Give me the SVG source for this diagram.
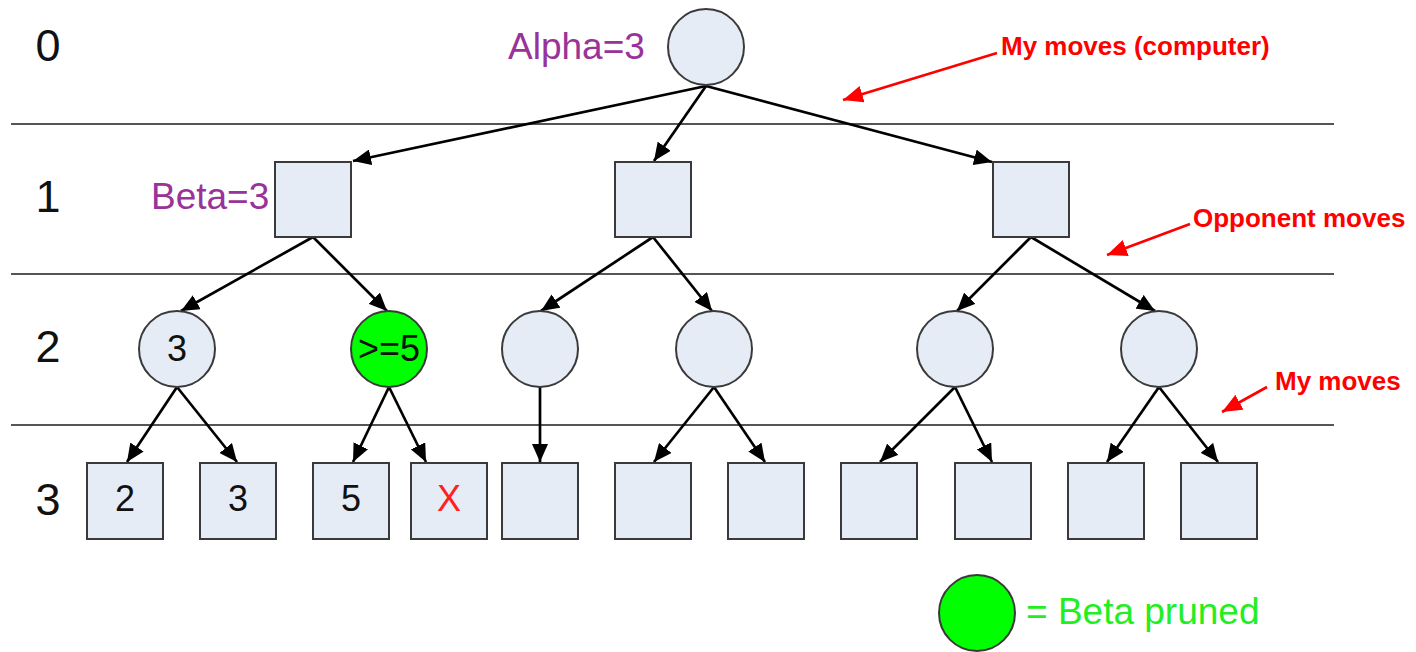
<svg xmlns="http://www.w3.org/2000/svg" width="1416" height="652" viewBox="0 0 1416 652">
  <defs>
    <marker id="arrow" viewBox="0 0 18 16" refX="18" refY="8" markerWidth="18" markerHeight="16" markerUnits="userSpaceOnUse" orient="auto">
      <path d="M0,0 L18,8 L0,16 Z" fill="#000"/>
    </marker>
    <marker id="arrow-red" viewBox="0 0 20 17" refX="20" refY="8.5" markerWidth="20" markerHeight="17" markerUnits="userSpaceOnUse" orient="auto">
      <path d="M0,0 L20,8.5 L0,17 Z" fill="#ff0000"/>
    </marker>
  </defs>
  <style>
    text { font-family: "Liberation Sans", Arial, sans-serif; }
    .sep { stroke: #555; stroke-width: 2; }
    .node { fill: #e6ecf6; stroke: #3a3a3a; stroke-width: 2; }
    .pruned { fill: #00ff00; stroke: #3a3a3a; stroke-width: 2; }
    .edge { stroke: #000; stroke-width: 2.7; fill: none; marker-end: url(#arrow); }
    .note-arrow { stroke: #ff0000; stroke-width: 2.7; fill: none; marker-end: url(#arrow-red); }
    .level { font-size: 45px; fill: #111; text-anchor: middle; }
    .val { font-size: 36px; fill: #111; text-anchor: middle; }
    .bound { font-size: 37px; fill: #993399; }
    .note { font-size: 26px; font-weight: bold; fill: #ff0000; }
    .legend { font-size: 37px; fill: #22ee22; }
  </style>

  <rect width="1416" height="652" fill="#fff"/>

  <!-- ply separators -->
  <g id="separators">
    <line class="sep" x1="11" y1="124" x2="1334" y2="124"/>
    <line class="sep" x1="11" y1="274" x2="1334" y2="274"/>
    <line class="sep" x1="11" y1="425" x2="1334" y2="425"/>
  </g>

  <!-- ply numbers -->
  <g id="levels">
    <text class="level" x="48" y="61">0</text>
    <text class="level" x="48" y="212">1</text>
    <text class="level" x="48" y="362">2</text>
    <text class="level" x="48" y="515">3</text>
  </g>

  <!-- connectors -->
  <g id="edges">
    <line class="edge" x1="706" y1="86" x2="353" y2="161"/>
    <line class="edge" x1="706" y1="86" x2="654" y2="161"/>
    <line class="edge" x1="706" y1="86" x2="992" y2="162"/>

    <line class="edge" x1="313" y1="237" x2="181" y2="311"/>
    <line class="edge" x1="313" y1="237" x2="387" y2="311"/>
    <line class="edge" x1="653" y1="237" x2="541" y2="311"/>
    <line class="edge" x1="653" y1="237" x2="712" y2="311"/>
    <line class="edge" x1="1031" y1="237" x2="957" y2="311"/>
    <line class="edge" x1="1031" y1="237" x2="1155" y2="311"/>

    <line class="edge" x1="177" y1="387" x2="127" y2="462"/>
    <line class="edge" x1="177" y1="387" x2="237" y2="462"/>
    <line class="edge" x1="389" y1="387" x2="353" y2="462"/>
    <line class="edge" x1="389" y1="387" x2="426" y2="462"/>
    <line class="edge" x1="540" y1="387" x2="540" y2="462"/>
    <line class="edge" x1="714" y1="387" x2="654" y2="462"/>
    <line class="edge" x1="714" y1="387" x2="765" y2="462"/>
    <line class="edge" x1="955" y1="387" x2="880" y2="462"/>
    <line class="edge" x1="955" y1="387" x2="992" y2="462"/>
    <line class="edge" x1="1159" y1="387" x2="1107" y2="462"/>
    <line class="edge" x1="1159" y1="387" x2="1218" y2="462"/>
  </g>

  <!-- ply 0 -->
  <g id="root">
    <circle class="node" cx="706" cy="47" r="38"/>
    <text class="bound" x="508" y="59">Alpha=3</text>
  </g>

  <!-- ply 1 -->
  <g id="n1a">
    <rect class="node" x="275" y="162" width="76" height="75"/>
    <text class="bound" x="151" y="209">Beta=3</text>
  </g>
  <g id="n1b"><rect class="node" x="615" y="162" width="76" height="75"/></g>
  <g id="n1c"><rect class="node" x="993" y="162" width="76" height="75"/></g>

  <!-- ply 2 -->
  <g id="n2a">
    <circle class="node" cx="177" cy="349" r="38"/>
    <text class="val" x="177" y="361">3</text>
  </g>
  <g id="n2b">
    <circle class="pruned" cx="389" cy="349" r="38"/>
    <text class="val" x="389" y="361">&gt;=5</text>
  </g>
  <g id="n2c"><circle class="node" cx="540" cy="349" r="38"/></g>
  <g id="n2d"><circle class="node" cx="714" cy="349" r="38"/></g>
  <g id="n2e"><circle class="node" cx="955" cy="349" r="38"/></g>
  <g id="n2f"><circle class="node" cx="1159" cy="349" r="38"/></g>

  <!-- ply 3 -->
  <g id="n3a">
    <rect class="node" x="87" y="463" width="76" height="76"/>
    <text class="val" x="125" y="511">2</text>
  </g>
  <g id="n3b">
    <rect class="node" x="200" y="463" width="76" height="76"/>
    <text class="val" x="238" y="511">3</text>
  </g>
  <g id="n3c">
    <rect class="node" x="313" y="463" width="76" height="76"/>
    <text class="val" x="351" y="511">5</text>
  </g>
  <g id="n3d">
    <rect class="node" x="411" y="463" width="76" height="76"/>
    <text class="val" x="449" y="511" style="fill:#ff2020">X</text>
  </g>
  <g id="n3e"><rect class="node" x="502" y="463" width="76" height="76"/></g>
  <g id="n3f"><rect class="node" x="615" y="463" width="76" height="76"/></g>
  <g id="n3g"><rect class="node" x="728" y="463" width="76" height="76"/></g>
  <g id="n3h"><rect class="node" x="841" y="463" width="76" height="76"/></g>
  <g id="n3i"><rect class="node" x="955" y="463" width="76" height="76"/></g>
  <g id="n3j"><rect class="node" x="1068" y="463" width="76" height="76"/></g>
  <g id="n3k"><rect class="node" x="1181" y="463" width="76" height="76"/></g>

  <!-- side notes -->
  <g id="note-computer">
    <line class="note-arrow" x1="997" y1="53" x2="843" y2="100"/>
    <text class="note" x="1001" y="55">My moves (computer)</text>
  </g>
  <g id="note-opponent">
    <line class="note-arrow" x1="1190" y1="224" x2="1107" y2="255"/>
    <text class="note" x="1193" y="227">Opponent moves</text>
  </g>
  <g id="note-mine">
    <line class="note-arrow" x1="1267" y1="387" x2="1222" y2="412"/>
    <text class="note" x="1275" y="390">My moves</text>
  </g>

  <!-- legend -->
  <g id="legend">
    <circle class="pruned" cx="977" cy="613" r="38"/>
    <text class="legend" x="1026" y="624">= Beta pruned</text>
  </g>
</svg>
